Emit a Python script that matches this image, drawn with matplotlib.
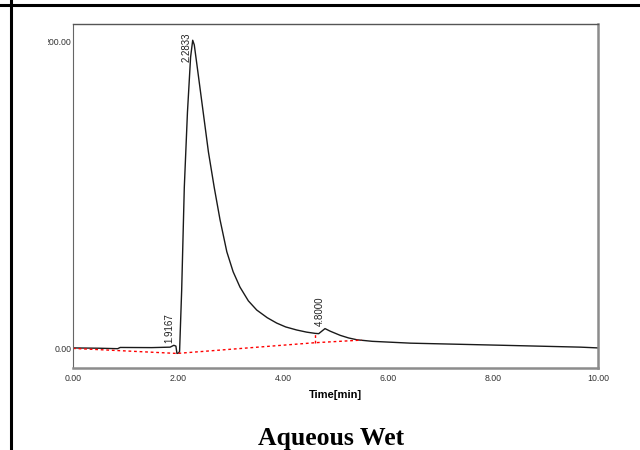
import matplotlib
matplotlib.use('Agg')
import matplotlib.pyplot as plt
from matplotlib.lines import Line2D
from matplotlib.transforms import Bbox

######################### Data #########################

# chromatogram trace
time = [0.0, 0.5, 0.85, 0.9, 1.5, 1.85, 1.92, 1.96, 1.98, 2.01, 2.03,
        2.07, 2.12, 2.18, 2.24, 2.28, 2.31, 2.38, 2.48, 2.58, 2.69, 2.80,
        2.93, 3.05, 3.18, 3.34, 3.5, 3.7, 3.88, 4.05, 4.26, 4.45, 4.61,
        4.68, 4.80, 4.90, 5.09, 5.25, 5.41, 5.7, 6.43, 8.08, 9.67, 10.0]
signal = [0.3, 0.1, -0.2, 0.6, 0.5, 0.8, 2.0, 1.5, -3.3, -3.0, -2.0,
          38, 105, 154, 190, 201, 198, 180, 154, 128, 105, 84,
          63, 50, 40, 31, 25, 20, 16.5, 14, 12, 10.6, 9.8,
          9.6, 12.9, 11.2, 8.5, 6.8, 5.6, 4.6, 3.4, 2.1, 0.8, 0.3]

# integration baseline (red dotted)
base_t = [0.0, 1.98, 4.61, 5.5]
base_v = [0.0, -3.3, 3.7, 5.4]
drop_t = [4.61, 4.61]
drop_v = [3.7, 9.8]

# peak labels
peak_names = ['1.9167', '2.2833', '4.8000']
peak_t = [1.84, 2.17, 4.70]
peak_v = [3.6, 187, 14.7]

xticks = [0, 2, 4, 6, 8, 10]
yticks = [0, 200]

######################### Plotting #########################

fig = plt.figure(figsize=(6.4, 4.5), dpi=100)
ax = fig.add_axes([73/640, 82/450, 525/640, 344/450])

ax.plot(time, signal, color='#1a1a1a', lw=1.0)
ax.plot(base_t, base_v, color='red', lw=1.0, ls=(0, (2, 2)))
ax.plot(drop_t, drop_v, color='red', lw=1.0, ls=(0, (2, 2)))

for name, t, v in zip(peak_names, peak_t, peak_v):
    ax.text(t, v, name, rotation=90, ha='center', va='bottom',
            fontsize=7, family='Liberation Sans', color='#222222')

ax.set_xlim(0, 10)
ax.set_ylim(-12.8, 211.6)
ax.set_xticks(xticks)
ax.set_xticklabels(['%.2f' % x for x in xticks])
ax.set_yticks(yticks)
ax.set_yticklabels(['%.2f' % y for y in yticks])
ax.tick_params(length=0, labelsize=6.3, labelcolor='#333333')
ax.tick_params(axis='x', pad=4)
ax.tick_params(axis='y', pad=1)
for lab in ax.get_xticklabels() + ax.get_yticklabels():
    lab.set_family('Liberation Sans')

ax.set_xlabel('Time[min]', fontsize=8, fontweight='bold',
              family='Liberation Sans', labelpad=5)

ax.spines['left'].set_color('#666666')
ax.spines['left'].set_linewidth(0.8)
ax.spines['top'].set_color('#555555')
ax.spines['top'].set_linewidth(1.0)
ax.spines['right'].set_color('#8c8c8c')
ax.spines['right'].set_linewidth(1.8)
ax.spines['bottom'].set_color('#8c8c8c')
ax.spines['bottom'].set_linewidth(1.8)

# the top y label is cut off on its left side
clip = Bbox.from_extents(48, 0, 640, 450)
for lab in ax.get_yticklabels():
    lab.set_clip_box(clip)
    lab.set_clip_on(True)

# page border lines
fig.add_artist(Line2D([0, 1], [1 - 5/450, 1 - 5/450], color='black', lw=2.2))
fig.add_artist(Line2D([11/640, 11/640], [0, 1], color='black', lw=2.2))

fig.text(331/640, 5/450, 'Aqueous Wet', ha='center', va='baseline',
         fontsize=18.5, fontweight='bold', family='Liberation Serif')

fig.savefig('out.png', dpi=100)
